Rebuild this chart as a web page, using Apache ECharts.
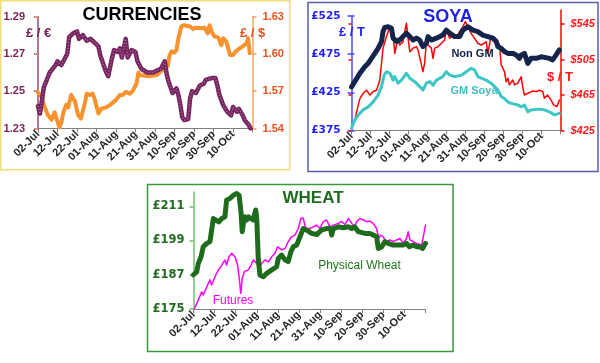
<!DOCTYPE html>
<html><head><meta charset="utf-8">
<script src="https://cdn.jsdelivr.net/npm/echarts@6/dist/echarts.min.js"></script>
<style>html,body{margin:0;padding:0;background:#fff}#c{width:600px;height:363px}</style>
</head><body><div id="c"></div><script>
// x-axis tick labels (days counted from 02-Jul, one label every 10 days)
const dateLabels = ['02-Jul','12-Jul','22-Jul','01-Aug','11-Aug','21-Aug','31-Aug','10-Sep','20-Sep','30-Sep','10-Oct'];

// CURRENCIES  (£/€ left axis, £/$ right axis)
const eurTicks = [1.23, 1.25, 1.27, 1.29];
const usdTicks = [1.54, 1.57, 1.60, 1.63];
const eurDays = [0,1,3,6,9,10,12,14,15,16,18,20,21,23,25,27,29,31,32,33,35,36,38,39,41,42,43,45,46,48,50,51,53,56,59,61,63,65,66,67,69,71,72,73,74,75,77,78,79,81,83,85,86,89,91,92,93,95,97,99,100,102,103,105,106,108,109];
const eurVals = [1.242,1.238,1.252,1.260,1.264,1.266,1.264,1.268,1.270,1.279,1.281,1.282,1.278,1.280,1.277,1.278,1.276,1.274,1.269,1.268,1.260,1.258,1.268,1.272,1.271,1.273,1.268,1.278,1.268,1.272,1.271,1.266,1.262,1.260,1.260,1.261,1.262,1.266,1.259,1.255,1.249,1.2515,1.248,1.2425,1.236,1.2345,1.235,1.246,1.250,1.249,1.253,1.254,1.256,1.257,1.257,1.253,1.248,1.2425,1.239,1.237,1.2415,1.239,1.2405,1.237,1.2345,1.232,1.230];
const usdDays = [0,2,3,5,7,8.5,9.5,11,12,13,14.5,15.5,17,18,19,20.5,22,24,25,26.5,28,29,31,32.5,35,37,38,40,42,43.5,45,47,48.5,50.5,51.5,52,57,61,63,65,66.5,67.5,68.5,70,71,72,73.5,75,78,79.5,81,84,85.5,87,88,89,90.5,92.5,93,94,95,96.5,98.5,100,101.5,103.5,105,107,107.7,108.6];
const usdVals = [1.569,1.565,1.559,1.551,1.547,1.553,1.548,1.541,1.545,1.553,1.559,1.557,1.567,1.568,1.5615,1.551,1.548,1.560,1.568,1.567,1.568,1.564,1.552,1.556,1.557,1.559,1.560,1.563,1.567,1.567,1.5695,1.568,1.570,1.576,1.585,1.583,1.582,1.583,1.586,1.588,1.590,1.599,1.602,1.601,1.603,1.6125,1.622,1.623,1.622,1.620,1.621,1.6205,1.621,1.6165,1.623,1.618,1.614,1.613,1.6125,1.607,1.6125,1.610,1.599,1.599,1.602,1.6045,1.606,1.6085,1.6125,1.6005];

// SOYA  (£/T left axis, $/T right axis)
const gbpTTicks = [375, 425, 475, 525];
const usdTTicks = [425, 465, 505, 545];
const nonGmDays = [0,2.7,4.4,7,8.8,10.5,12.3,14,15.8,16.6,17.5,19.3,21,21.9,23.7,25.4,27.1,28.9,30.7,32.4,34.2,35.9,37.6,39.4,40.3,42,44.7,48.1,49.9,51.7,54.3,56.9,58.6,61.3,63.9,66.5,69.1,71.8,74.4,76.2,77,78.8,80.5,82.3,84.9,86.7,88.4,89.3,91,92.8,94.5,97.2,99.8,102.4,104.1,105.9,107.7,109.4];
const nonGmVals = [432,443,450,458.5,463,469.5,476,482.5,491.5,504.5,510,511,509,496,491.5,493.5,498,502.5,498,493.5,496,493.5,485,489,498,493.5,496,500,506.5,502.5,498,498,506.5,511,506.5,504.5,500,498,496,491.5,485,482.5,478.5,476,476,474,469.5,474,476,463,469.5,469.5,471.5,470.5,469.5,467.5,474,480.5];
const gmDays = [0,1.8,3.5,6.1,8.8,11.4,14,15.8,17.2,18.4,20.2,21.9,22.8,24.5,26.3,28.9,30.7,33.3,35.9,37.6,39.4,41.2,42.9,44.7,48.1,49.9,51.7,54.3,57.8,60.4,63,64.8,66.5,68.3,70.9,73.5,75.3,77,78.8,80.5,82.3,84,87.5,89.3,91,92.8,94.5,98.9,101.5,104.1,106.8,109.4];
const gmVals = [378,389,395,402,406,412.5,421.5,432.5,447.5,452,450,441,445.5,437,441,450,443.5,439,432.5,428,437,439,434.5,441,445.5,452,447.5,445.5,447.5,452,456.5,454.5,445.5,443.5,441,437,432.5,428,419.5,417,412.5,410.5,408.5,406,408.5,399.5,402,403,402,399.5,395.5,397.5];
const usdTDays = [0,1.8,2.7,3.5,4.4,6.1,7,7.9,8.8,9.7,11.4,13.2,14.9,15.8,16.6,18.4,20.2,21.9,22.8,23.7,24.5,25.4,27.1,28,28.9,29.8,30.7,32.4,34.2,35,36.8,37.6,38.5,39.4,40.3,42,42.9,43.8,45.5,47.3,49,49.9,51.7,53.4,55.2,56.9,58.6,59.9,61.3,63,64.8,66.5,68.3,70.9,71.8,73.2,74.4,76.2,77.9,78.8,79.6,80.5,81.4,82.3,83.1,84.9,85.8,87.5,89.3,90.1,91,92.8,95.4,97.2,98.9,100.6,101.5,103.2,105,106.3,108.1,109.4];
const usdTVals = [427.5,437,446,448,461,467,465,470.5,472.5,465,469,470.5,482,501,518,531,542,533,512,521.5,529,521.5,525,536.5,546,529,514,518,519.5,516,499,491.5,501,525,521.5,518,506.5,518,519.5,523.5,527,538.5,529,534.5,531,536.5,542,548,542,534.5,529,523.5,521.5,525,512,529,531,527,521.5,499,500,491.5,480,484,476.5,482,476.5,478.5,485.5,474.5,465,467,469.5,469,470.5,469,461.5,465,459.5,454,452,459.5];

// WHEAT  (£/T)
const wheatTicks = [175, 187, 199, 211];
const physDays = [0,1.5,2.3,3.6,4.6,6.3,7.8,9.4,10.5,12,13.4,14.9,15.7,17.3,18.9,20.5,21.6,22.5,23.1,24.1,25.2,26,28.3,29.5,30,30.7,31.5,33.1,34.7,37.1,39.4,40.2,41.8,43.4,44.9,46.2,47.3,48.9,50.5,52,53.6,56,58.4,60.8,63.1,65,65.5,66.3,68.6,71,73.4,75,76.5,78.1,81.3,83.6,85.2,86.8,87.6,89.2,90.8,92.3,94.7,97.1,99.4,101,102.3,104.2,105.8,107.3,108.6,110];
const physVals = [187,188,191,193.3,196.8,198,198.6,206.7,206.2,205.5,206.7,207.3,213.2,213.7,214.9,215.5,214.9,209.1,202.1,207.3,206.2,207.3,206.2,209.7,206.7,192.7,186.9,186.3,187.5,188.7,189.8,192.7,193.9,192.2,191.6,195.1,196.8,197.4,200.3,203.2,202.7,201.5,201.1,202.7,203.2,203.2,200.9,203.2,203.8,203.5,203.8,203.2,203.8,202.1,201.5,201.5,200.9,200.3,196.2,196.8,198.6,198,197.4,197.4,197.4,198,196.8,197.4,196.8,196.8,196.2,198];
const futDays = [0.5,2.3,3.9,4.6,6.3,7.8,8.6,10.2,11.8,13.4,14.9,15.7,16.8,18.1,19.7,20.9,21.7,22.4,23.1,24.1,26,27.3,28.3,30,31,32.3,33.9,35.5,37.1,38.6,39.9,41.8,43.4,44.9,46.5,48.1,49.7,50.9,52,53.2,55.2,56.8,58.4,60,61.5,63.1,64.7,66.3,68.6,70.2,71.8,73.4,74.2,75,76.5,77.3,78.9,80.5,82.1,83.6,85.2,86.8,87.9,88.7,90,91.2,93.1,94.7,96.3,97.9,99.4,101,101.8,102.6,104.2,105.8,108.2,108.9,110];
const futVals = [175.2,178.2,181,179.9,182.8,185.2,183.4,186.3,188.7,190.4,192.2,190.4,193.3,194.5,193.3,190.4,185.7,180.5,185.7,188.1,188.7,190.4,192.2,191,189.2,191,192.2,191.5,193.3,194.5,196.8,195.7,196.2,198.6,200.3,200.9,203.2,206.7,206.9,203.2,203.2,203.8,204.4,203.2,205.6,206.2,203.8,204.4,205,205.6,204.6,206.7,206.9,205,203.8,205.6,206.7,206.2,205.6,205.8,205,203.2,199.7,200.9,200.3,198.6,199.2,198.6,199.2,199.7,198,199.7,202.1,199.2,198.6,198,197.4,198,204.4];

const F = '"Liberation Sans", Arial, Helvetica, sans-serif';
const FD = '"DejaVu Sans", Verdana, sans-serif';
const pair = (d, v) => d.map((x, i) => [x, v[i]]);

function xAx(gi, show) {
  return {
    type: 'value', gridIndex: gi, min: 0, max: 110, interval: 10, show: show,
    axisLine: {show: true, onZero: false, lineStyle: {color: '#7f7f7f', width: 1}},
    axisTick: {show: true, length: 4, lineStyle: {color: '#7f7f7f'}},
    splitLine: {show: false},
    axisLabel: {rotate: 45, margin: 4, fontSize: 11, fontWeight: 'bold', fontFamily: F, color: '#262626',
      formatter: v => dateLabels[Math.round(v / 10)] || ''}
  };
}
function yAx(gi, pos, min, max, ticks, lineColor, labelColor, fmt, margin, font, size, italic) {
  return {
    type: 'value', gridIndex: gi, position: pos, min: min, max: max,
    axisLine: {show: true, onZero: false, lineStyle: {color: lineColor, width: 1.5}},
    axisTick: {show: true, length: 4, customValues: ticks, lineStyle: {color: lineColor, width: 1.5}},
    splitLine: {show: false},
    axisLabel: {customValues: ticks, margin: margin, fontSize: size, fontWeight: 'bold', fontStyle: italic ? 'italic' : 'normal',
      fontFamily: font, color: labelColor, formatter: fmt}
  };
}
function yInner(gi, pos, min, max, ticks, lineColor) {
  return {
    type: 'value', gridIndex: gi, position: pos, min: min, max: max,
    axisLine: {show: false}, splitLine: {show: false}, axisLabel: {show: false},
    axisTick: {show: true, inside: true, length: 3, customValues: ticks, lineStyle: {color: lineColor, width: 1.5}}
  };
}
function line(xi, yi, data, color, width, extra) {
  return Object.assign({
    type: 'line', xAxisIndex: xi, yAxisIndex: yi, data: data, showSymbol: false, symbol: 'none',
    lineStyle: {color: color, width: width, cap: 'round', join: 'round'}, silent: true
  }, extra || {});
}

const chart = echarts.init(document.getElementById('c'), null, {width: 600, height: 363});
const txt = (x, y, text, size, color, weight, align) => ({
  type: 'text', x: x, y: y, z: 100,
  style: {text: text, fill: color, font: (weight || 'bold') + ' ' + size + 'px ' + F, align: align || 'left', verticalAlign: 'middle'}
});
const box = (x, y, w, h, color) => ({type: 'rect', shape: {x: x, y: y, width: w, height: h}, style: {fill: 'none', stroke: color, lineWidth: 1.5}, z: 90});

chart.setOption({
  animation: false,
  backgroundColor: '#ffffff',
  grid: [
    {left: 38, top: 16.5, width: 214.5, height: 112},
    {left: 351.5, top: 16, width: 209, height: 114.5},
    {left: 351.5, top: 10, width: 209, height: 120.5},
    {left: 193.5, top: 192, width: 232, height: 117}
  ],
  xAxis: [xAx(0, true), xAx(1, true), xAx(2, false), xAx(3, true)],
  yAxis: [
    yAx(0, 'left', 1.23, 1.29, eurTicks, '#9a4a78', '#7a1f55', v => v.toFixed(2), 13, F, 11),
    yAx(0, 'right', 1.54, 1.63, usdTicks, '#f7a363', '#e8501a', v => v.toFixed(2), 10, F, 11),
    yInner(0, 'right', 1.54, 1.63, usdTicks, '#f7a363'),
    yAx(1, 'left', 375, 525, gbpTTicks, '#4a4aff', '#1f1fff', v => '£' + v, 11, FD, 10.5),
    yInner(1, 'left', 375, 525, gbpTTicks, '#4a4aff'),
    yAx(2, 'right', 425, 561, usdTTicks, '#ff0000', '#ff1a1a', v => '$' + v, 10, F, 11, true),
    yInner(2, 'right', 425, 561, usdTTicks, '#ff0000'),
    yAx(3, 'left', 175, 216, wheatTicks, '#6fbf6f', '#1f6b1f', v => '£' + v, 9, FD, 11.5)
  ],
  series: [
    line(0, 1, pair(usdDays, usdVals), '#f7922f', 4),
    line(0, 0, pair(eurDays, eurVals), '#74245f', 4.5),
    line(0, 0, pair(eurDays, eurVals), '#c88bb8', 1.3, {lineStyle: {color: '#c88bb8', width: 1.3, type: [1, 2], opacity: 0.8}}),
    line(2, 5, pair(usdTDays, usdTVals), '#ff0000', 1.5),
    line(1, 3, pair(gmDays, gmVals), '#3cc6c6', 3),
    line(1, 3, pair(nonGmDays, nonGmVals), '#14244a', 5),
    line(3, 7, pair(futDays, futVals), '#ff00ff', 1.5),
    line(3, 7, pair(physDays, physVals), '#1e6b1e', 5)
  ],
  graphic: [
    box(0.75, 0.75, 289, 169, '#f5dc7a'),
    box(308, 2.5, 290, 169, '#5c5cac'),
    box(147.5, 184.5, 305.5, 167, '#3a9a3a'),
    txt(142, 15, 'CURRENCIES', 18, '#000000', 'bold', 'center'),
    txt(26, 33, '£ / €', 13, '#7a1f55'),
    txt(240, 33, '£ / $', 13, '#e8501a'),
    txt(448, 17, 'SOYA', 18, '#1f1fe0', 'bold', 'center'),
    txt(339, 32.5, '£ / T', 13, '#1f1fff'),
    txt(547, 77, '$ / T', 13, '#ff1a1a'),
    txt(472.5, 54, 'Non GM', 11, '#10204a', 'bold', 'center'),
    txt(474, 91, 'GM Soya', 11, '#40c0c0', 'bold', 'center'),
    txt(313, 198.5, 'WHEAT', 17, '#1f6b1f', 'bold', 'center'),
    txt(359.5, 265.5, 'Physical Wheat', 12, '#1f7a1f', 'normal', 'center'),
    txt(233, 300.5, 'Futures', 12, '#ff00ff', 'normal', 'center')
  ]
});
</script></body></html>
